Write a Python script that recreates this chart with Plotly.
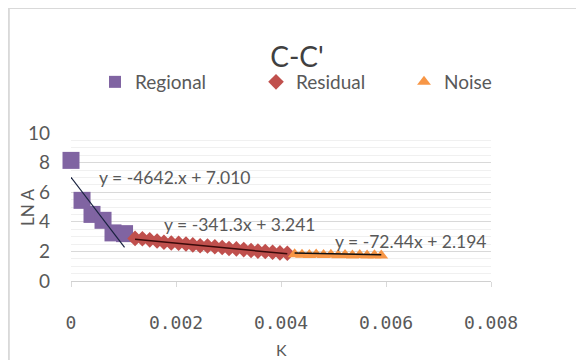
import plotly.graph_objects as go

# ---- data ----
regional_k = [0.0, 0.00021, 0.00040, 0.00061, 0.00080, 0.00102]
regional_lna = [8.15, 5.45, 4.50, 4.10, 3.25, 3.20]

residual_k = [0.00122, 0.00136, 0.00150, 0.00164, 0.00177, 0.00191, 0.00205, 0.00219,
              0.00232, 0.00246, 0.00260, 0.00274, 0.00288, 0.00301, 0.00315, 0.00329,
              0.00343, 0.00356, 0.00370, 0.00384, 0.00398, 0.00412]
residual_lna = [2.88, 2.85, 2.78, 2.70, 2.62, 2.57, 2.55, 2.50, 2.44, 2.38, 2.36, 2.31,
                2.26, 2.20, 2.17, 2.12, 2.06, 2.02, 1.99, 1.94, 1.90, 1.88]

noise_k = [0.00426, 0.00440, 0.00454, 0.00467, 0.00481, 0.00495, 0.00509, 0.00522,
           0.00536, 0.00550, 0.00564, 0.00578, 0.00591]
noise_lna = [1.80, 1.78, 1.76, 1.79, 1.75, 1.77, 1.74, 1.76, 1.73, 1.75, 1.72, 1.74, 1.72]

# trendline coefficients (slope, intercept) and equation labels
fit_regional = (-4642.0, 7.010)
fit_residual = (-341.3, 3.241)
fit_noise = (-72.44, 2.194)
eq_labels = ["y = -4642.x + 7.010", "y = -341.3x + 3.241", "y = -72.44x + 2.194"]

x_ticks = [0, 0.002, 0.004, 0.006, 0.008]
x_ticktext = ["0", "0.002", "0.004", "0.006", "0.008"]
y_ticks = [0, 2, 4, 6, 8, 10]

GRAY = "#595959"
FONT = "Lato"

fig = go.Figure()

fig.add_trace(go.Scatter(x=regional_k, y=regional_lna, mode="markers", name="Regional",
                         marker=dict(symbol="square", size=17, color="#8064A2"),
                         cliponaxis=False, legend="legend"))
fig.add_trace(go.Scatter(x=residual_k, y=residual_lna, mode="markers", name="Residual",
                         marker=dict(symbol="diamond", size=12, color="#C0504D"),
                         cliponaxis=False, legend="legend2"))
fig.add_trace(go.Scatter(x=noise_k, y=noise_lna, mode="markers", name="Noise",
                         marker=dict(symbol="triangle-up", size=12, color="#F79646"),
                         cliponaxis=False, legend="legend3"))


def trend(xs, fit):
    x0, x1 = xs[0], xs[-1]
    return [x0, x1], [fit[0] * x0 + fit[1], fit[0] * x1 + fit[1]]


for xs, fit, col, w in [(regional_k, fit_regional, "#1a2340", 1.2),
                        (residual_k, fit_residual, "#3a0a0a", 1.5),
                        (noise_k, fit_noise, "#111111", 1.5)]:
    tx, ty = trend(xs, fit)
    fig.add_trace(go.Scatter(x=tx, y=ty, mode="lines", showlegend=False,
                             line=dict(color=col, width=w), hoverinfo="skip"))

# equation labels
for (ax, ay), txt in zip([(0.00049, 7.0), (0.00173, 3.82), (0.00499, 2.67)], eq_labels):
    fig.add_annotation(x=ax, y=ay, xref="x", yref="y", text=txt, showarrow=False,
                       xanchor="left", yanchor="middle",
                       font=dict(family=FONT, size=17.5, color=GRAY))

# axis titles
fig.add_annotation(x=-0.105, y=0.5, xref="paper", yref="paper", text="LN A",
                   textangle=-90, showarrow=False, xanchor="center", yanchor="middle",
                   font=dict(family=FONT, size=17, color=GRAY))
fig.add_annotation(x=0.5, y=-0.46, xref="paper", yref="paper", text="K",
                   showarrow=False, xanchor="center", yanchor="middle",
                   font=dict(family=FONT, size=16, color=GRAY))

# chart border
fig.add_shape(type="rect", xref="paper", yref="paper", x0=-0.148, x1=1.217,
              y0=-0.7, y1=1.845, line=dict(color="#d9d9d9", width=2), layer="below")


def leg(xpx):
    return dict(orientation="h", x=xpx / 584, xref="container",
                y=1 - 74 / 360, yref="container", yanchor="middle", xanchor="left",
                itemsizing="constant", itemwidth=30,
                font=dict(family=FONT, size=19, color=GRAY),
                bgcolor="rgba(0,0,0,0)")


fig.update_layout(
    width=584, height=360,
    margin=dict(l=63, r=101, t=125, b=87),
    paper_bgcolor="white", plot_bgcolor="white",
    title=dict(text="C-C'", x=0.538, xref="paper", xanchor="center",
               y=1 - 49 / 360, yanchor="middle",
               font=dict(family=FONT, size=28, color="#404040")),
    legend=leg(87), legend2=leg(248), legend3=leg(396),
    showlegend=True,
)

fig.update_xaxes(range=[0, 0.008], tickvals=x_ticks, ticktext=x_ticktext,
                 showgrid=False, zeroline=False, showline=False,
                 ticks="outside", ticklen=5, tickcolor="#d9d9d9",
                 ticklabelstandoff=20,
                 tickfont=dict(family="DejaVu Sans Mono", size=18, color=GRAY))
fig.update_yaxes(range=[0, 10], tickvals=y_ticks, showgrid=True, gridcolor="#d9d9d9",
                 gridwidth=1, zeroline=True, zerolinecolor="#d0d0d0", zerolinewidth=1,
                 showline=False, ticks="", ticklabelstandoff=20,
                 minor=dict(dtick=0.5, showgrid=True, gridcolor="#f0f0f0", gridwidth=1),
                 tickfont=dict(family=FONT, size=19, color=GRAY))

fig.write_html("out.html")
